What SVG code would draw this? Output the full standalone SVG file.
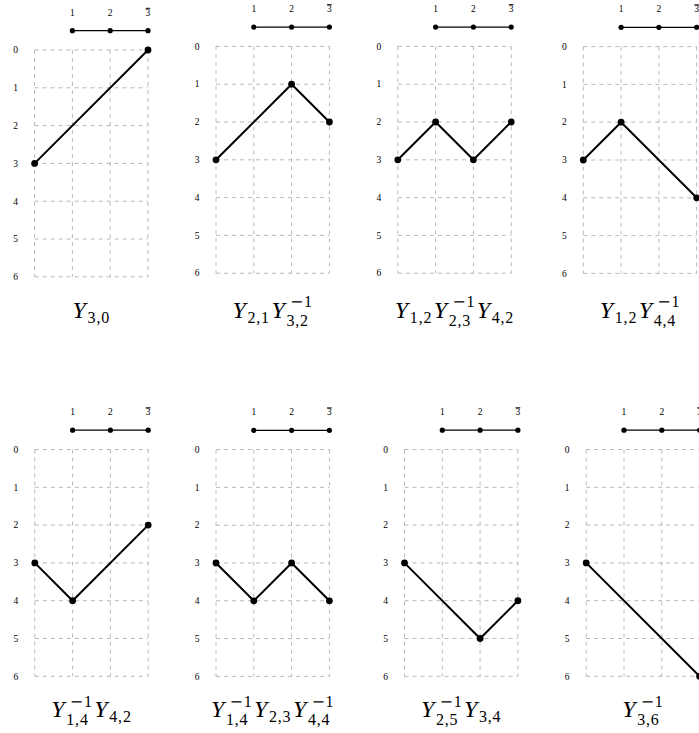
<svg xmlns="http://www.w3.org/2000/svg" width="699" height="733" viewBox="0 0 699 733">
<style>
.grid line{stroke:#b0b0b0;stroke-width:0.9;stroke-dasharray:4 4;fill:none}
.lbl{font-family:'Liberation Serif',serif;font-size:9.5px;fill:#000;text-anchor:middle}
.ob{text-decoration:overline}
.bar{stroke:#000;stroke-width:1.2;fill:none}
.path{fill:none;stroke:#000;stroke-width:2;stroke-linejoin:round;stroke-linecap:round}
.cap{font-family:'Liberation Serif',serif;font-size:24px;font-style:italic;fill:#000}
.scr{font-size:16px;font-style:normal;letter-spacing:0.8px}
.mn{font-family:'DejaVu Serif',serif}
</style>
<defs>
<g id="grid" class="grid">
<line x1="0" y1="0" x2="113.4" y2="0"/><line x1="0" y1="37.8" x2="113.4" y2="37.8"/><line x1="0" y1="75.6" x2="113.4" y2="75.6"/><line x1="0" y1="113.4" x2="113.4" y2="113.4"/><line x1="0" y1="151.2" x2="113.4" y2="151.2"/><line x1="0" y1="189" x2="113.4" y2="189"/><line x1="0" y1="226.8" x2="113.4" y2="226.8"/>
<line x1="0" y1="0" x2="0" y2="226.8"/><line x1="37.8" y1="0" x2="37.8" y2="226.8"/><line x1="75.6" y1="0" x2="75.6" y2="226.8"/><line x1="113.4" y1="0" x2="113.4" y2="226.8"/>
</g>
<g id="axes" font-family="Liberation Serif, serif">
<text class="lbl" font-family="Liberation Serif, serif" x="-19" y="3.3">0</text><text class="lbl" font-family="Liberation Serif, serif" x="-19" y="41.1">1</text><text class="lbl" font-family="Liberation Serif, serif" x="-19" y="78.9">2</text><text class="lbl" font-family="Liberation Serif, serif" x="-19" y="116.7">3</text><text class="lbl" font-family="Liberation Serif, serif" x="-19" y="154.5">4</text><text class="lbl" font-family="Liberation Serif, serif" x="-19" y="192.3">5</text><text class="lbl" font-family="Liberation Serif, serif" x="-19" y="230.1">6</text>
<text class="lbl" font-family="Liberation Serif, serif" x="37.8" y="-34.2">1</text><text class="lbl" font-family="Liberation Serif, serif" x="75.6" y="-34.2">2</text><text class="lbl ob" font-family="Liberation Serif, serif" x="113.4" y="-34.2">3</text>
<line class="bar" x1="37.8" y1="-19.3" x2="113.4" y2="-19.3"/>
<circle cx="37.8" cy="-19.3" r="2.6"/><circle cx="75.6" cy="-19.3" r="2.6"/><circle cx="113.4" cy="-19.3" r="2.6"/>
</g>
</defs>

<g id="panel-1" transform="translate(34.6,50)">
<use href="#grid"/><use href="#axes"/>
<g id="p1-connectors"><polyline class="path" points="0,113.4 113.4,0"/></g>
<g id="p1-nodes"><circle cx="0" cy="113.4" r="3.4"/><circle cx="113.4" cy="0" r="3.4"/></g>
<text id="p1-caption" class="cap" font-family="Liberation Serif, serif"><tspan x="38" y="268">Y</tspan><tspan class="scr" x="53" y="273">3,0</tspan></text>
</g>

<g id="panel-2" transform="translate(216,46.4)">
<use href="#grid"/><use href="#axes"/>
<g id="p2-connectors"><polyline class="path" points="0,113.4 75.6,37.8 113.4,75.6"/></g>
<g id="p2-nodes"><circle cx="0" cy="113.4" r="3.4"/><circle cx="75.6" cy="37.8" r="3.4"/><circle cx="113.4" cy="75.6" r="3.4"/></g>
<text id="p2-caption" class="cap" font-family="Liberation Serif, serif"><tspan x="16.5" y="271.6">Y</tspan><tspan class="scr" x="31.5" y="276.6">2,1</tspan><tspan x="55.4" y="271.6">Y</tspan><tspan class="scr" x="73.9" y="261.1"><tspan class="mn">−</tspan>1</tspan><tspan class="scr" x="70.4" y="279.6">3,2</tspan></text>
</g>

<g id="panel-3" transform="translate(397.8,46.4)">
<use href="#grid"/><use href="#axes"/>
<g id="p3-connectors"><polyline class="path" points="0,113.4 37.8,75.6 75.6,113.4 113.4,75.6"/></g>
<g id="p3-nodes"><circle cx="0" cy="113.4" r="3.4"/><circle cx="37.8" cy="75.6" r="3.4"/><circle cx="75.6" cy="113.4" r="3.4"/><circle cx="113.4" cy="75.6" r="3.4"/></g>
<text id="p3-caption" class="cap" font-family="Liberation Serif, serif"><tspan x="-2.95" y="271.6">Y</tspan><tspan class="scr" x="12.05" y="276.6">1,2</tspan><tspan x="35.95" y="271.6">Y</tspan><tspan class="scr" x="54.45" y="261.1"><tspan class="mn">−</tspan>1</tspan><tspan class="scr" x="50.95" y="279.6">2,3</tspan><tspan x="78.95" y="271.6">Y</tspan><tspan class="scr" x="93.95" y="276.6">4,2</tspan></text>
</g>

<g id="panel-4" transform="translate(583.3,46.6)">
<use href="#grid"/><use href="#axes"/>
<g id="p4-connectors"><polyline class="path" points="0,113.4 37.8,75.6 113.4,151.2"/></g>
<g id="p4-nodes"><circle cx="0" cy="113.4" r="3.4"/><circle cx="37.8" cy="75.6" r="3.4"/><circle cx="113.4" cy="151.2" r="3.4"/></g>
<text id="p4-caption" class="cap" font-family="Liberation Serif, serif"><tspan x="16.5" y="271.4">Y</tspan><tspan class="scr" x="31.5" y="276.4">1,2</tspan><tspan x="55.4" y="271.4">Y</tspan><tspan class="scr" x="73.9" y="260.9"><tspan class="mn">−</tspan>1</tspan><tspan class="scr" x="70.4" y="279.4">4,4</tspan></text>
</g>

<g id="panel-5" transform="translate(34.8,449.5)">
<use href="#grid"/><use href="#axes"/>
<g id="p5-connectors"><polyline class="path" points="0,113.4 37.8,151.2 113.4,75.6"/></g>
<g id="p5-nodes"><circle cx="0" cy="113.4" r="3.4"/><circle cx="37.8" cy="151.2" r="3.4"/><circle cx="113.4" cy="75.6" r="3.4"/></g>
<text id="p5-caption" class="cap" font-family="Liberation Serif, serif"><tspan x="16.5" y="267.9">Y</tspan><tspan class="scr" x="35" y="257.4"><tspan class="mn">−</tspan>1</tspan><tspan class="scr" x="31.5" y="275.9">1,4</tspan><tspan x="59.5" y="267.9">Y</tspan><tspan class="scr" x="74.5" y="272.9">4,2</tspan></text>
</g>

<g id="panel-6" transform="translate(216,449.6)">
<use href="#grid"/><use href="#axes"/>
<g id="p6-connectors"><polyline class="path" points="0,113.4 37.8,151.2 75.6,113.4 113.4,151.2"/></g>
<g id="p6-nodes"><circle cx="0" cy="113.4" r="3.4"/><circle cx="37.8" cy="151.2" r="3.4"/><circle cx="75.6" cy="113.4" r="3.4"/><circle cx="113.4" cy="151.2" r="3.4"/></g>
<text id="p6-caption" class="cap" font-family="Liberation Serif, serif"><tspan x="-5" y="267.8">Y</tspan><tspan class="scr" x="13.5" y="257.3"><tspan class="mn">−</tspan>1</tspan><tspan class="scr" x="10" y="275.8">1,4</tspan><tspan x="38" y="267.8">Y</tspan><tspan class="scr" x="53" y="272.8">2,3</tspan><tspan x="76.9" y="267.8">Y</tspan><tspan class="scr" x="95.4" y="257.3"><tspan class="mn">−</tspan>1</tspan><tspan class="scr" x="91.9" y="275.8">4,4</tspan></text>
</g>

<g id="panel-7" transform="translate(404.5,449.5)">
<use href="#grid"/><use href="#axes"/>
<g id="p7-connectors"><polyline class="path" points="0,113.4 75.6,189 113.4,151.2"/></g>
<g id="p7-nodes"><circle cx="0" cy="113.4" r="3.4"/><circle cx="75.6" cy="189" r="3.4"/><circle cx="113.4" cy="151.2" r="3.4"/></g>
<text id="p7-caption" class="cap" font-family="Liberation Serif, serif"><tspan x="16.5" y="267.9">Y</tspan><tspan class="scr" x="35" y="257.4"><tspan class="mn">−</tspan>1</tspan><tspan class="scr" x="31.5" y="275.9">2,5</tspan><tspan x="59.5" y="267.9">Y</tspan><tspan class="scr" x="74.5" y="272.9">3,4</tspan></text>
</g>

<g id="panel-8" transform="translate(586.2,449.5)">
<use href="#grid"/><use href="#axes"/>
<g id="p8-connectors"><polyline class="path" points="0,113.4 113.4,226.8"/></g>
<g id="p8-nodes"><circle cx="0" cy="113.4" r="3.4"/><circle cx="113.4" cy="226.8" r="3.4"/></g>
<text id="p8-caption" class="cap" font-family="Liberation Serif, serif"><tspan x="35.95" y="267.9">Y</tspan><tspan class="scr" x="54.45" y="257.4"><tspan class="mn">−</tspan>1</tspan><tspan class="scr" x="50.95" y="275.9">3,6</tspan></text>
</g>
</svg>
